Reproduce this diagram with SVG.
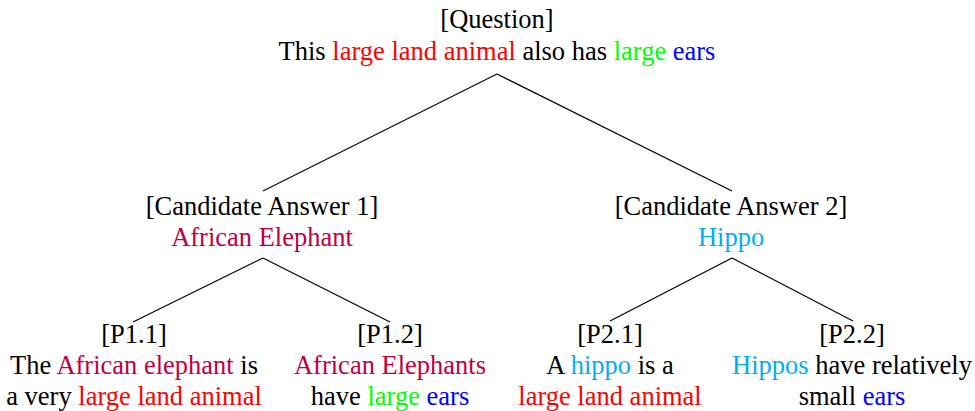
<svg xmlns="http://www.w3.org/2000/svg" width="975" height="411" viewBox="0 0 975 411">
  <style>
    text { font-family: "Liberation Serif", "Times New Roman", serif; font-size: 26.5px; fill: #000; text-anchor: middle; }
    .red { fill: #ff0000; }
    .green { fill: #00ff00; }
    .blue { fill: #0000ff; }
    .purple { fill: #bf0040; }
    .cyan { fill: #00aeef; }
    .edge { stroke: #000; stroke-width: 1.2; fill: none; }
  </style>
  <rect width="975" height="411" fill="#fff"/>

  <g id="connectors">
    <line class="edge" x1="497" y1="74" x2="263" y2="191"/>
    <line class="edge" x1="497" y1="74" x2="732" y2="191"/>
    <line class="edge" x1="263" y1="258" x2="133" y2="322"/>
    <line class="edge" x1="263" y1="258" x2="390" y2="322"/>
    <line class="edge" x1="732" y1="258" x2="610" y2="321"/>
    <line class="edge" x1="732" y1="258" x2="853" y2="321"/>
  </g>

  <g id="question">
    <text x="497" y="28">[Question]</text>
    <text x="497" y="60">This <tspan class="red">large land animal</tspan> also has <tspan class="green">large</tspan> <tspan class="blue">ears</tspan></text>
  </g>

  <g id="candidate1">
    <text x="262" y="215">[Candidate Answer 1]</text>
    <text x="262" y="246" class="purple">African Elephant</text>
  </g>

  <g id="candidate2">
    <text x="731" y="215">[Candidate Answer 2]</text>
    <text x="731" y="246" class="cyan">Hippo</text>
  </g>

  <g id="p1-1">
    <text x="134" y="343">[P1.1]</text>
    <text x="134" y="374">The <tspan class="purple">African elephant</tspan> is</text>
    <text x="134" y="405">a very <tspan class="red">large land animal</tspan></text>
  </g>

  <g id="p1-2">
    <text x="390" y="343">[P1.2]</text>
    <text x="390" y="374" class="purple">African Elephants</text>
    <text x="390" y="405">have <tspan class="green">large</tspan> <tspan class="blue">ears</tspan></text>
  </g>

  <g id="p2-1">
    <text x="610" y="343">[P2.1]</text>
    <text x="610" y="374">A <tspan class="cyan">hippo</tspan> is a</text>
    <text x="610" y="405" class="red">large land animal</text>
  </g>

  <g id="p2-2">
    <text x="852" y="343">[P2.2]</text>
    <text x="852" y="374"><tspan class="cyan">Hippos</tspan> have relatively</text>
    <text x="852" y="405">small <tspan class="blue">ears</tspan></text>
  </g>
</svg>
